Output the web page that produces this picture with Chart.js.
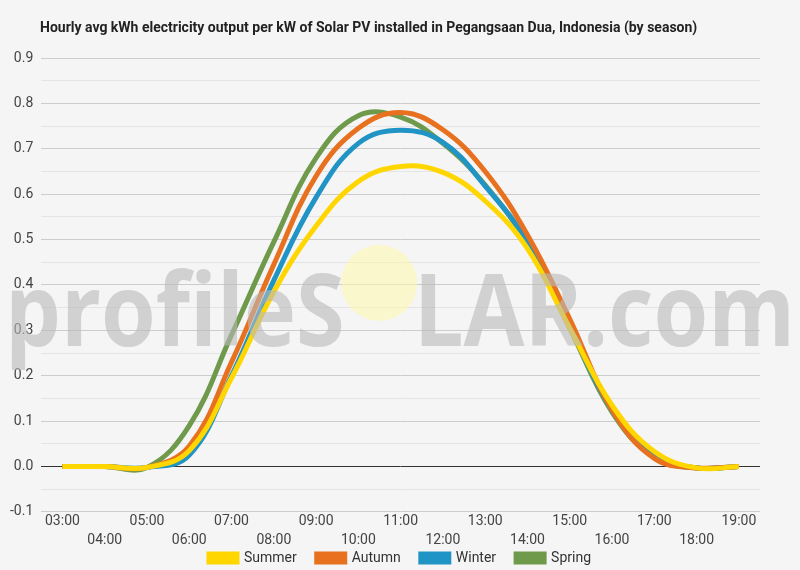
<!DOCTYPE html>
<html>
<head>
  <title>Solar PV output by season</title>
  <style>
    body { margin: 0; padding: 0; background: #f5f5f5; font-family: Roboto, Arial, sans-serif; }
    .wrap { position: relative; width: 800px; height: 570px; }
    .title { position: absolute; left: 40px; top: 19px; font-size: 14px; font-weight: bold; color: #222; white-space: nowrap; }
    canvas { position: absolute; left: 0; top: 0; }
  </style>
</head>
<body>

<div class="wrap">
  <canvas id="chart" width="800" height="570"></canvas>
  <div class="title">Hourly avg kWh electricity output per kW of Solar PV installed in Pegangsaan Dua, Indonesia (by season)</div>
</div>

<script src="https://cdn.jsdelivr.net/npm/chart.js"></script>
<script>
const hours = ['03:00', '04:00', '05:00', '06:00', '07:00', '08:00', '09:00', '10:00', '11:00',
               '12:00', '13:00', '14:00', '15:00', '16:00', '17:00', '18:00', '19:00'];

const summer = [0, 0, -0.002, 0.035, 0.195, 0.385, 0.53, 0.628, 0.661, 0.648, 0.585, 0.48, 0.305, 0.135, 0.033, -0.003, 0];
const autumn = [0, 0, -0.002, 0.045, 0.23, 0.445, 0.64, 0.745, 0.78, 0.742, 0.65, 0.51, 0.325, 0.125, 0.018, -0.003, 0];
const winter = [0, 0, -0.002, 0.025, 0.2, 0.41, 0.593, 0.712, 0.741, 0.714, 0.618, 0.495, 0.31, 0.125, 0.022, -0.003, 0];
const spring = [0, 0, -0.002, 0.09, 0.29, 0.495, 0.68, 0.773, 0.77, 0.712, 0.62, 0.49, 0.305, 0.12, 0.02, -0.003, 0];

// staggered x labels: odd hours on first row, even on second
const xLabels = hours.map((h, i) => i % 2 === 0 ? [h, ''] : ['', h]);

function series(label, data, color) {
  return {
    label: label,
    data: data,
    borderColor: color,
    backgroundColor: color,
    borderWidth: 5,
    pointRadius: 0,
    tension: 0.4,
    fill: false
  };
}

// big faint site watermark drawn over the lines
const watermark = {
  id: 'watermark',
  afterDatasetsDraw(chart) {
    const ctx = chart.ctx;
    ctx.save();
    const size = 100;
    ctx.font = 'bold ' + size + 'px "Open Sans", sans-serif';
    const a = 'profileS', b = 'LAR.com';
    const wa = ctx.measureText(a).width, wb = ctx.measureText(b).width, wo = size * 0.78;
    const sx = 790 / (wa + wb + wo);
    const x0 = 5, base = 318;
    ctx.translate(x0, base);
    ctx.scale(sx, 1);
    ctx.fillStyle = 'rgba(185,185,185,0.6)';
    ctx.fillText(a, 0, 0);
    ctx.fillText(b, wa + wo, 0);
    ctx.setTransform(1, 0, 0, 1, 0, 0);
    ctx.fillStyle = 'rgba(255,248,170,0.55)';
    ctx.beginPath();
    ctx.arc(x0 + (wa + wo / 2) * sx, base - 35, 38, 0, Math.PI * 2);
    ctx.fill();
    ctx.restore();
  }
};

// keep the legend snug under the two rows of hour labels, centred on the page
const legendSnug = {
  id: 'legendSnug',
  beforeInit(chart) {
    const lg = chart.legend;
    if (!lg) return;
    const fit = lg.fit;
    lg.fit = function() { fit.call(this); this.height = 20; };
  },
  afterLayout(chart) {
    const lg = chart.legend;
    lg.top = chart.height - 39;
    lg.bottom = chart.height;
    lg.left = 0;
    lg.right = chart.width;
  }
};

new Chart(document.getElementById('chart').getContext('2d'), {
  type: 'line',
  data: {
    labels: xLabels,
    datasets: [
      series('Summer', summer, '#ffd600'),
      series('Autumn', autumn, '#e8711f'),
      series('Winter', winter, '#2194c6'),
      series('Spring', spring, '#6f9a4c')
    ]
  },
  options: {
    responsive: false,
    animation: false,
    layout: { padding: { top: 58, left: 2, right: 40, bottom: 0 } },
    plugins: {
      legend: {
        position: 'bottom',
        labels: { boxWidth: 28, boxHeight: 8, padding: 20, color: '#333', font: { family: 'Roboto', size: 14 } }
      },
      tooltip: { enabled: false }
    },
    scales: {
      x: {
        offset: true,
        grid: { display: false, drawTicks: false },
        border: { display: false },
        ticks: { autoSkip: false, maxRotation: 0, padding: 0, color: '#444', font: { family: 'Roboto', size: 14, lineHeight: 1.36 } }
      },
      y: {
        min: -0.1,
        max: 0.9,
        border: { display: false },
        grid: {
          drawTicks: false,
          color: c => {
            const v = Math.round(c.tick.value * 100);
            if (v === 0) return '#333';
            return v % 10 === 0 ? '#cccccc' : '#e4e4e4';
          }
        },
        ticks: {
          stepSize: 0.05,
          padding: 8,
          color: '#444',
          font: { family: 'Roboto', size: 14 },
          callback: v => Math.round(v * 100) % 10 === 0 ? v.toFixed(1) : ''
        }
      }
    }
  },
  plugins: [watermark, legendSnug]
});
</script>

</body>
</html>
